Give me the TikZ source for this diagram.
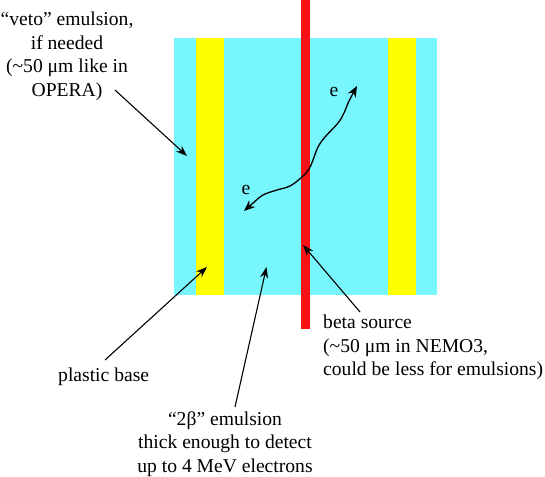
\documentclass[tikz,border=0pt]{standalone}
\usepackage{fontspec}
\setmainfont{Liberation Serif}
\newfontfamily\lserif{Liberation Serif}
\usetikzlibrary{arrows.meta}
\definecolor{emcyan}{RGB}{119,247,253}
\definecolor{baseyellow}{RGB}{255,255,0}
\definecolor{srcred}{RGB}{248,18,22}
\tikzset{
  lbl/.style={inner sep=0pt, font=\lserif\fontsize{19.6bp}{23.5bp}\selectfont},
  pointer/.style={draw=black, line width=1.1bp, -{Stealth[length=11bp,width=8bp]}},
  track/.style={draw=black, line width=1.3bp, {Stealth[length=11bp,width=9bp]}-{Stealth[length=11bp,width=9bp]}}
}
\begin{document}
\begin{tikzpicture}[x=1bp,y=-1bp]
\useasboundingbox (0,0) rectangle (545,477);
% layers
\fill[emcyan] (174,38) rectangle (437,295);
\fill[baseyellow] (195.7,38) rectangle (223.7,295);
\fill[baseyellow] (387.7,38) rectangle (415.7,295);
\fill[srcred] (301.3,0) rectangle (310,329);
% labels
\node[lbl, align=center, anchor=north] (veto) at (67,12) {“veto” emulsion,\\if needed\\(\textasciitilde50 μm like in\\OPERA)};
\node[lbl, anchor=base west] (plastic) at (58,381) {plastic base};
\node[lbl, align=center, anchor=north] (twobeta) at (225,411) {“2β” emulsion\\thick enough to detect\\up to 4 MeV electrons};
\node[lbl, align=left, anchor=north west] (beta) at (323,315) {beta source\\(\textasciitilde50 μm in NEMO3,\\could be less for emulsions)};
\node[lbl] (e1) at (334,92) {e};
\node[lbl] (e2) at (246,190) {e};
% pointer ends
\coordinate (vetoS) at (115,90);
\coordinate (vetoT) at (187,156);
\coordinate (plS) at (105,360);
\coordinate (plT) at (207,267);
\coordinate (tbS) at (235,407);
\coordinate (tbT) at (266.5,267);
\coordinate (bsS) at (360,312);
\coordinate (bsT) at (303,245);
\draw[pointer] (vetoS) -- (vetoT);
\draw[pointer] (plS) -- (plT);
\draw[pointer] (tbS) -- (tbT);
\draw[pointer] (bsS) -- (bsT);
% electron track
\draw[track] plot[smooth, tension=0.6] coordinates {(357,86) (349,101) (344,113) (338,123) (325,137) (318,147) (313,160) (309,169) (302,177) (290,186) (277,190) (263,195) (252,204) (244,211)};
\end{tikzpicture}
\end{document}
